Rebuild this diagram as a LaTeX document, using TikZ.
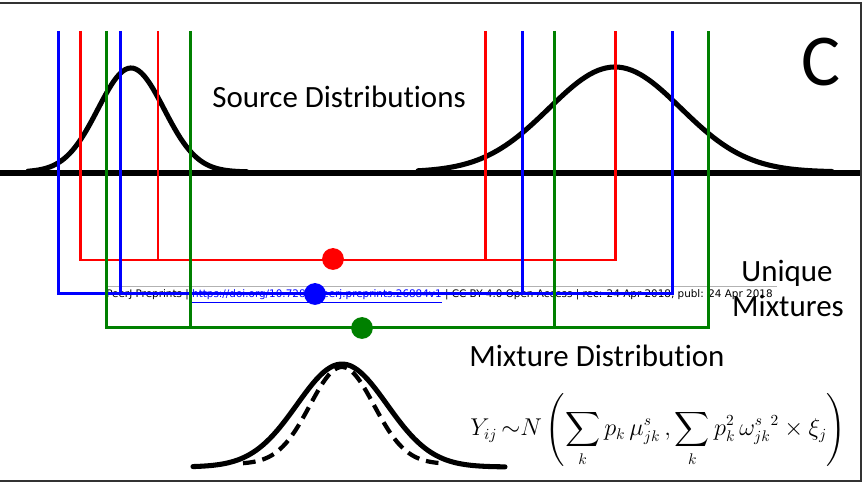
\documentclass[tikz,border=0pt]{standalone}
\usepackage{xcolor}
\usepackage{amsmath}
\usepackage{fontspec}
\setmainfont[RawFeature={-liga;-clig;-calt;-dlig}]{Carlito}
\newfontfamily\stampfont{DejaVu Sans}
\usepackage{tikz}
\definecolor{mixRed}{HTML}{FF0000}
\definecolor{mixBlue}{HTML}{0000FF}
\definecolor{mixGreen}{HTML}{008000}
\definecolor{frameGrey}{HTML}{333333}
\tikzset{
  dist/.style={line width=3.6pt, black, line cap=round},
  mix/.style={line width=1.8pt},
  dot/.style={circle, inner sep=0pt, minimum size=15.5pt},
  lbl/.style={font=\fontsize{22}{26}\selectfont, inner sep=0pt},
  stamp/.style={font=\stampfont\fontsize{7.4}{8.5}\selectfont, inner sep=0pt},
}
% #1 colour, #2 height of the bar, #3-#6 positions of the four cuts
\newcommand{\mixbracket}[6]{%
  \draw[mix, #1] (#3,31) -- (#3,#2) -- (#6,#2) -- (#6,31);
  \draw[mix, #1] (#4,31) -- (#4,#2);
  \draw[mix, #1] (#5,31) -- (#5,#2);}

\begin{document}
\begin{tikzpicture}[x=0.025cm, y=-0.025cm]
  \useasboundingbox (0,0) rectangle (864,484);
  % frame
  \draw[frameGrey, line width=2pt] (0,3) -- (861,3) -- (861,481) -- (0,481);
  % stamp of the preprint server
  \draw[black!30, line width=0.5pt] (106,286) -- (777,286);
  \node[stamp, anchor=base west] (stamptxt) at (106,298)
    {PeerJ Preprints | \textcolor{mixBlue}{\underline{https://doi.org/10.7287/peerj.preprints.26884v1}} | CC BY 4.0 Open Access | rec: 24 Apr 2018, publ: 24 Apr 2018};
  % source distributions
  \draw[dist] plot[domain=-103:116, samples=80]
    ({131+\x},{172-104*exp(-0.5*(\x/33)*(\x/33))});
  \draw[dist] plot[domain=-197:217, samples=100]
    ({615+\x},{172-105*exp(-0.5*(\x/66)*(\x/66))});
  \draw[line width=3.6pt] (0,173) -- (860,173);
  % unique mixtures
  \mixbracket{mixRed}{260}{80.7}{158}{485.3}{615.3}
  \mixbracket{mixBlue}{293.5}{58.7}{120.7}{522.7}{672.3}
  \mixbracket{mixGreen}{327.5}{106.7}{190.3}{554.7}{708.3}
  \node[dot, fill=mixRed]   (reddot)   at (333,259) {};
  \node[dot, fill=mixBlue]  (bluedot)  at (315,294) {};
  \node[dot, fill=mixGreen] (greendot) at (362,328) {};
  % mixture distribution
  \draw[dist] plot[domain=-149:163, samples=90]
    ({342+\x},{467-103*exp(-0.5*(\x/45)*(\x/45))});
  \draw[dist, dash pattern=on 9pt off 5pt, line width=3pt, line cap=butt] plot[domain=-99:98, samples=70]
    ({342+\x},{464-97*exp(-0.5*(\x/32)*(\x/32))});
  % labels
  \node[lbl] (srclbl) at (339,97) {Source Distributions};
  \node[font=\fontsize{52}{56}\selectfont] (panel) at (821,62) {C};
  \node[lbl] (uniqlbl) at (787,273) {Unique};
  \node[lbl] (mixlbl) at (788,306) {Mixtures};
  \node[lbl] (mixdist) at (597,356) {Mixture Distribution};
  \node[anchor=west, inner sep=0pt, font=\fontsize{16}{19}\selectfont] (formula) at (470,430)
    {$\displaystyle Y_{ij}\,{\sim}N\left(\sum_k p_k\,\mu^s_{jk}\,,\sum_k p_k^2\,{\omega^s_{jk}}^2\times\xi_j\right)$};
\end{tikzpicture}
\end{document}
